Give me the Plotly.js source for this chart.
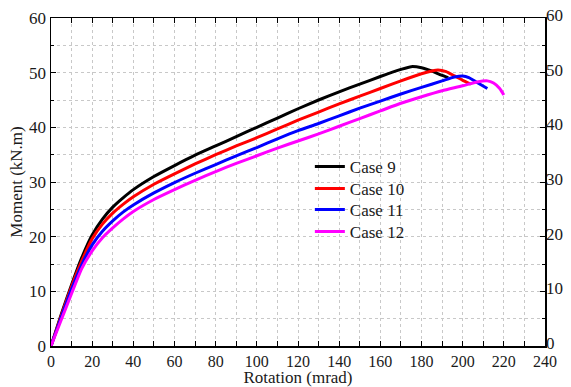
<!DOCTYPE html>
<html>
<head>
<meta charset="utf-8">
<script src="https://cdn.plot.ly/plotly-3.0.1.min.js"></script>
<style>html,body{margin:0;padding:0;background:#fff}#chart{width:571px;height:387px}</style>
</head>
<body>
<div id="chart"></div>
<script>
// Case 9 (black)
const rot9 = [0,5,10,15,20,25,30,35,40,50,60,70,80,90,100,110,120,130,140,150,160,170,175,180,185,190,193];
const mom9 = [0,5.8,11.2,16.2,20.3,23.2,25.4,27.1,28.6,31.0,33.0,34.9,36.6,38.3,40.0,41.7,43.4,45.0,46.5,47.9,49.3,50.6,51.1,50.9,50.3,49.5,49.1];
// Case 10 (red)
const rot10 = [0,5,10,15,20,25,30,35,40,50,60,70,80,90,100,110,120,130,140,150,160,170,180,185,188,192,196,200,204];
const mom10 = [0,5.6,10.9,15.6,19.6,22.3,24.3,25.9,27.3,29.6,31.5,33.3,35.0,36.6,38.1,39.7,41.3,42.8,44.3,45.7,47.1,48.5,49.8,50.3,50.5,50.2,49.4,48.6,47.9];
// Case 11 (blue)
const rot11 = [0,5,10,15,20,25,30,35,40,50,60,70,80,90,100,110,120,130,140,150,160,170,180,190,196,200,203,207,212];
const mom11 = [0,5.3,10.4,14.9,18.5,21.0,22.9,24.5,25.8,28.0,29.9,31.6,33.2,34.8,36.3,37.9,39.4,40.7,42.1,43.5,44.8,46.1,47.3,48.5,49.2,49.4,49.1,48.2,47.1];
// Case 12 (magenta)
const rot12 = [0,5,10,15,20,25,30,35,40,50,60,70,80,90,100,110,120,130,140,150,160,170,180,190,200,207,212,215,218,220];
const mom12 = [0,4.8,9.6,14.2,17.4,19.8,21.6,23.2,24.6,26.8,28.6,30.3,31.9,33.4,34.8,36.2,37.5,38.8,40.2,41.6,43.0,44.4,45.6,46.7,47.6,48.3,48.5,48.1,47.1,45.9];

const names = ["Case 9","Case 10","Case 11","Case 12"];
const colors = ["#000000","#ff0000","#0000ff","#ff00ff"];
const xs = [rot9, rot10, rot11, rot12];
const ys = [mom9, mom10, mom11, mom12];
const legendIds = ['legend','legend2','legend3','legend4'];

const traces = names.map((n,i)=>({
  x: xs[i], y: ys[i], name: n, type: 'scatter', mode: 'lines', legend: legendIds[i],
  line: {color: colors[i], width: 3, shape: 'spline', smoothing: 0.6}
}));
// invisible companion on the right axis so its labels are drawn
traces.push({x: rot9, y: mom9, yaxis: 'y2', type: 'scatter', mode: 'lines',
  line: {width: 0, color: 'rgba(0,0,0,0)'}, showlegend: false, hoverinfo: 'skip'});

const FAM = 'Liberation Serif, Times New Roman, serif';
const TXT = '#1a1a1a';

function legendAt(yc) {
  return {x: 0.524, y: (346 - yc) / 328, xanchor: 'left', yanchor: 'middle',
          bgcolor: 'rgba(0,0,0,0)', font: {family: FAM, size: 17, color: TXT}};
}

const layout = {
  width: 571, height: 387,
  margin: {l: 51, r: 26, t: 18, b: 41},
  paper_bgcolor: '#fff', plot_bgcolor: '#fff',
  font: {family: FAM, size: 16, color: TXT},
  showlegend: true,
  legend: legendAt(167),
  legend2: legendAt(189),
  legend3: legendAt(210),
  legend4: legendAt(232),
  xaxis: {
    range: [0, 240], dtick: 20, tick0: 0, showgrid: true,
    gridcolor: '#c8c8c8', griddash: 'dot', gridwidth: 1,
    ticks: 'inside', ticklen: 5, tickcolor: '#000', linecolor: '#000', linewidth: 1.5,
    mirror: 'allticks', showline: true, zeroline: false,
    tickfont: {family: FAM, size: 16, color: TXT},
    minor: {dtick: 10, ticks: 'inside', ticklen: 3, showgrid: true, gridcolor: '#c8c8c8', griddash: 'dot', tickcolor: '#000'},
    title: {text: 'Rotation (mrad)', font: {family: FAM, size: 17, color: TXT}, standoff: 3}
  },
  yaxis: {
    range: [0, 60], dtick: 10, tick0: 0, showgrid: true,
    gridcolor: '#c8c8c8', griddash: 'dot', gridwidth: 1,
    ticks: 'inside', ticklen: 5, tickcolor: '#000', linecolor: '#000', linewidth: 1.5,
    mirror: 'allticks', showline: true, zeroline: false,
    tickfont: {family: FAM, size: 17, color: TXT},
    minor: {dtick: 5, ticks: 'inside', ticklen: 3, showgrid: true, gridcolor: '#c8c8c8', griddash: 'dot', tickcolor: '#000'},
    title: {text: 'Moment (kN.m)', font: {family: FAM, size: 17, color: TXT}, standoff: 2}
  },
  yaxis2: {
    range: [0, 60], dtick: 10, tick0: 0, overlaying: 'y', side: 'right',
    showgrid: false, zeroline: false, showline: false, ticks: '',
    ticklabelshift: -3,
    tickfont: {family: FAM, size: 17, color: TXT}
  }
};

Plotly.newPlot('chart', traces, layout, {displayModeBar: false, staticPlot: true});
</script>
</body>
</html>
